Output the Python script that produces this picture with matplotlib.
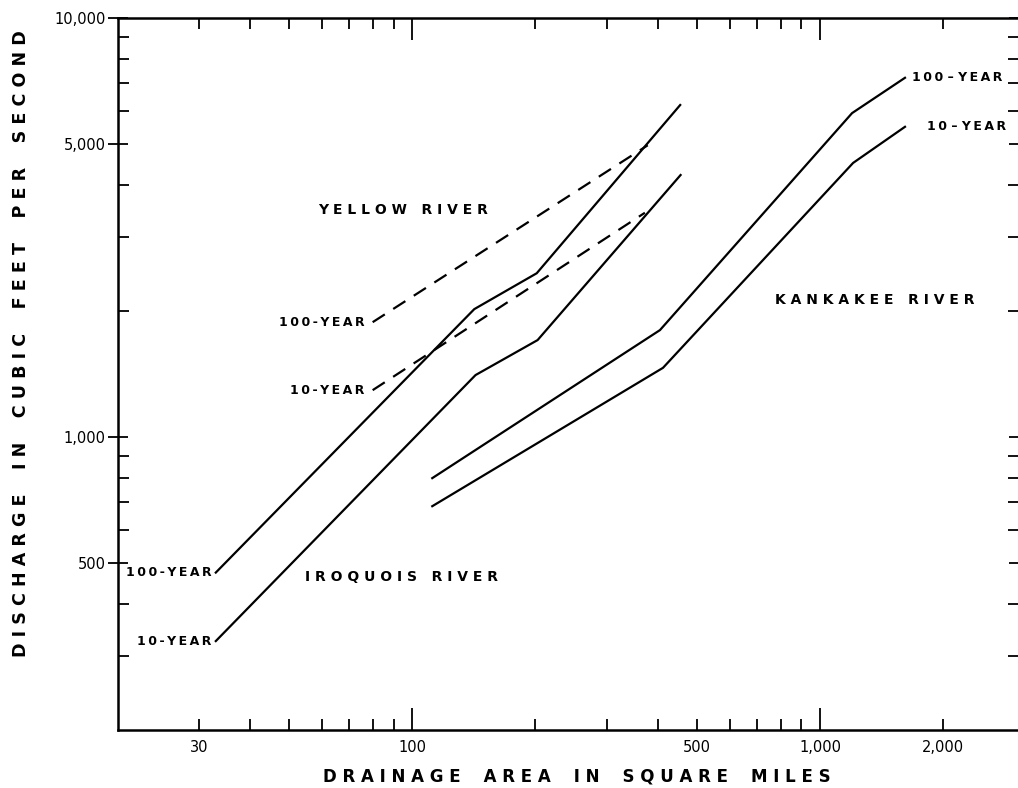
import matplotlib
matplotlib.use("Agg")
import matplotlib.pyplot as plt
from matplotlib.ticker import FixedLocator, FuncFormatter, NullFormatter

# ---- data ----
iroquois_area = [33, 142, 202, 454]
iroquois_q100 = [475, 2020, 2460, 6200]
iroquois_area10 = [33, 143, 203, 455]
iroquois_q10 = [326, 1406, 1704, 4220]

yellow_area100 = [80, 378]
yellow_q100 = [1880, 4970]
yellow_area10 = [80, 372]
yellow_q10 = [1294, 3430]

kankakee_area100 = [112, 405, 1198, 1615]
kankakee_q100 = [798, 1800, 5930, 7200]
kankakee_area10 = [112, 412, 1205, 1615]
kankakee_q10 = [684, 1463, 4510, 5500]

x_major = [100, 1000]
x_minor = [30, 40, 50, 60, 70, 80, 90, 200, 300, 400, 500, 600, 700, 800, 900, 2000]
x_labeled = {30: "30", 100: "100", 500: "500", 1000: "1,000", 2000: "2,000"}
y_major = [500, 1000, 5000, 10000]
y_minor = [300, 400, 600, 700, 800, 900, 2000, 3000, 4000, 6000, 7000, 8000, 9000]
y_labeled = {500: "500", 1000: "1,000", 5000: "5,000", 10000: "10,000"}

W, H = 1018, 788
fig = plt.figure(figsize=(W / 100, H / 100), dpi=100)
ax_l, ax_r, ax_t, ax_b = 118, 1019, 18, 730
ax = fig.add_axes([ax_l / W, 1 - ax_b / H, (ax_r - ax_l) / W, (ax_b - ax_t) / H])
ax.set_xscale("log")
ax.set_yscale("log")
ax.set_xlim(19, 3074)
ax.set_ylim(200, 10000)

lw = 1.6
kw = dict(color="black", lw=lw, solid_joinstyle="miter")
ax.plot(iroquois_area, iroquois_q100, **kw)
ax.plot(iroquois_area10, iroquois_q10, **kw)
ax.plot(kankakee_area100, kankakee_q100, **kw)
ax.plot(kankakee_area10, kankakee_q10, **kw)
ax.plot(yellow_area100, yellow_q100, color="black", lw=lw, dashes=(6.5, 4.5))
ax.plot(yellow_area10, yellow_q10, color="black", lw=lw, dashes=(6.5, 4.5))

# ---- ticks ----
ax.xaxis.set_major_locator(FixedLocator(x_major))
ax.xaxis.set_minor_locator(FixedLocator(x_minor))
fmt_x = FuncFormatter(lambda v, p: x_labeled.get(int(round(v)), ""))
ax.xaxis.set_major_formatter(fmt_x)
ax.xaxis.set_minor_formatter(fmt_x)
ax.yaxis.set_major_locator(FixedLocator(y_major))
ax.yaxis.set_minor_locator(FixedLocator(y_minor))
fmt_y = FuncFormatter(lambda v, p: y_labeled.get(int(round(v)), ""))
ax.yaxis.set_major_formatter(fmt_y)
ax.yaxis.set_minor_formatter(NullFormatter())

ax.tick_params(axis="x", which="major", direction="in", length=16, width=1.3,
               top=True, bottom=True, labelsize=10.5, pad=7)
ax.tick_params(axis="x", which="minor", direction="in", length=8, width=1.3,
               top=True, bottom=True, labelsize=10.5, pad=7)
ax.tick_params(axis="y", which="major", direction="inout", length=14, width=1.3,
               left=True, right=True, labelsize=10.5, pad=2)
ax.tick_params(axis="y", which="minor", direction="in", length=8, width=1.3,
               left=True, right=True)
for s in ax.spines.values():
    s.set_linewidth(1.8)

# ---- axis titles ----
def spaced(s, gap="    "):
    return gap.join(" ".join(w) for w in s.split())

fig.text((327 + 826) / 2 / W, 1 - 776 / H, spaced("DRAINAGE AREA IN SQUARE MILES"),
         ha="center", va="center", fontsize=12, fontweight="bold")
fig.text(21 / W, 1 - 344 / H, spaced("DISCHARGE IN CUBIC FEET PER SECOND"),
         ha="center", va="center", rotation=90, fontsize=12.6, fontweight="bold")

# ---- in-plot labels ----
big = dict(fontsize=10, fontweight="bold", ha="center", va="center")
ax.text(0.316, 0.730, spaced("YELLOW RIVER", "   "), transform=ax.transAxes, **big)
ax.text(0.315, 0.215, spaced("IROQUOIS RIVER", "   "), transform=ax.transAxes, **big)
ax.text(0.840, 0.604, spaced("KANKAKEE RIVER", "   "), transform=ax.transAxes, **big)

small = dict(fontsize=9, fontweight="semibold", textcoords="offset points", va="center")
TS = "\u2009"  # thin space for letter spacing
def ls(t):
    return TS.join(t)

ax.annotate(ls("100-YEAR"), xy=(iroquois_area[0], iroquois_q100[0]), xytext=(-3, 0), ha="right", **small)
ax.annotate(ls("10-YEAR"), xy=(iroquois_area10[0], iroquois_q10[0]), xytext=(-3, 0), ha="right", **small)
ax.annotate(ls("100-YEAR"), xy=(yellow_area100[0], yellow_q100[0]), xytext=(-6, 0), ha="right", **small)
ax.annotate(ls("10-YEAR"), xy=(yellow_area10[0], yellow_q10[0]), xytext=(-6, 0), ha="right", **small)
ax.annotate(ls("100") + " – " + ls("YEAR"), xy=(kankakee_area100[-1], kankakee_q100[-1]),
            xytext=(5, 0), ha="left", **small)
ax.annotate(ls("10") + " – " + ls("YEAR"), xy=(kankakee_area10[-1], kankakee_q10[-1]),
            xytext=(16, 0), ha="left", **small)

fig.savefig("out.png", dpi=100)
